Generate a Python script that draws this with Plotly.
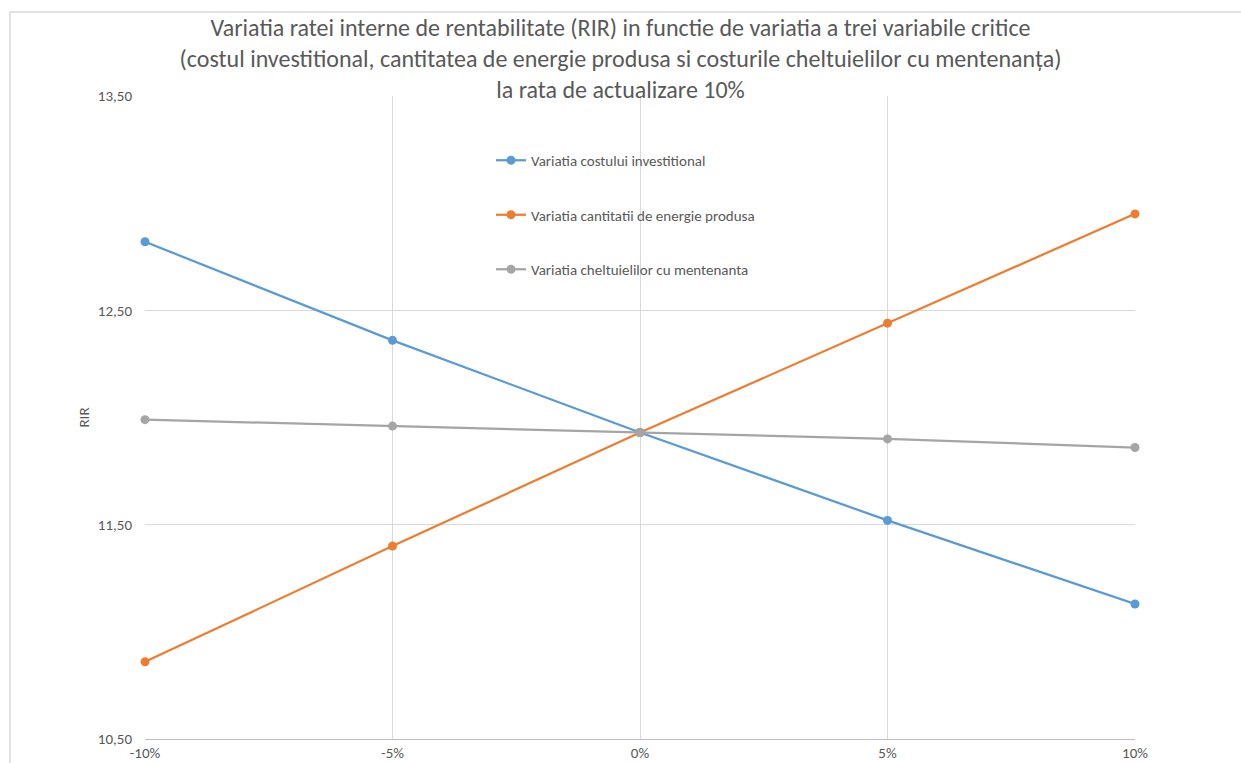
import plotly.graph_objects as go

categories = ["-10%", "-5%", "0%", "5%", "10%"]
cost_invest = [12.82, 12.36, 11.93, 11.52, 11.13]
energie = [10.86, 11.40, 11.93, 12.44, 12.95]
mentenanta = [11.99, 11.96, 11.93, 11.90, 11.86]
y_ticks = [10.5, 11.5, 12.5, 13.5]
y_tick_text = ["10,50", "11,50", "12,50", "13,50"]

names = ["Variatia costului investitional",
         "Variatia cantitatii de energie produsa",
         "Variatia cheltuielilor cu mentenanta"]
colors = ["#5B9BD5", "#ED7D31", "#A5A5A5"]
series = [cost_invest, energie, mentenanta]

font_family = "Carlito, Lato, Liberation Sans, Arial, sans-serif"

fig = go.Figure()
for i, (n, c, s) in enumerate(zip(names, colors, series)):
    fig.add_trace(go.Scatter(
        x=categories, y=s, name=n, mode="lines+markers",
        line=dict(color=c, width=2.25),
        marker=dict(color=c, size=9),
        cliponaxis=False, legendgroup=f"g{i}"))

W, H = 1241, 763
L, R, T, B = 145, 1135, 96, 739

fig.update_layout(
    width=W, height=H,
    margin=dict(l=L, r=W - R, t=T, b=H - B),
    paper_bgcolor="white", plot_bgcolor="white",
    font=dict(family=font_family, color="#595959", size=15),
    title=dict(
        text="Variatia ratei interne de rentabilitate (RIR) in functie de variatia a trei variabile critice<br>"
             "(costul investitional, cantitatea de energie produsa si costurile cheltuielilor cu mentenanța)<br>"
             "la rata de actualizare 10%",
        x=0.5, xanchor="center", y=1 - 36 / H, yanchor="top",
        font=dict(size=24, color="#595959", family=font_family)),
    showlegend=True,
    legend=dict(x=(491 - L) / (R - L), y=(B - 144) / (B - T), xanchor="left", yanchor="top",
                bgcolor="rgba(0,0,0,0)", tracegroupgap=32,
                font=dict(size=15, color="#595959")),
    xaxis=dict(type="category", range=[0, 4], showgrid=True, gridcolor="#D9D9D9", gridwidth=1,
               zeroline=False, showline=True, linecolor="#BFBFBF", linewidth=1,
               ticks="", automargin=False, ticklabelstandoff=0,
               tickfont=dict(size=15, color="#595959")),
    yaxis=dict(range=[10.5, 13.5], tickvals=y_ticks, ticktext=y_tick_text,
               showgrid=True, gridcolor="#D9D9D9", gridwidth=1, zeroline=False,
               showline=False, ticks="", automargin=False, ticklabelstandoff=12,
               tickfont=dict(size=15, color="#595959"),
               title=dict(text="RIR", font=dict(size=15, color="#595959"), standoff=4)),
    shapes=[dict(type="rect", xref="paper", yref="paper",
                 x0=(10 - L) / (R - L), x1=(1300 - L) / (R - L),
                 y0=(B - 800) / (B - T), y1=(B - 12) / (B - T),
                 line=dict(color="#D9D9D9", width=1.5), layer="below")],
)

fig.write_html("out.html")
